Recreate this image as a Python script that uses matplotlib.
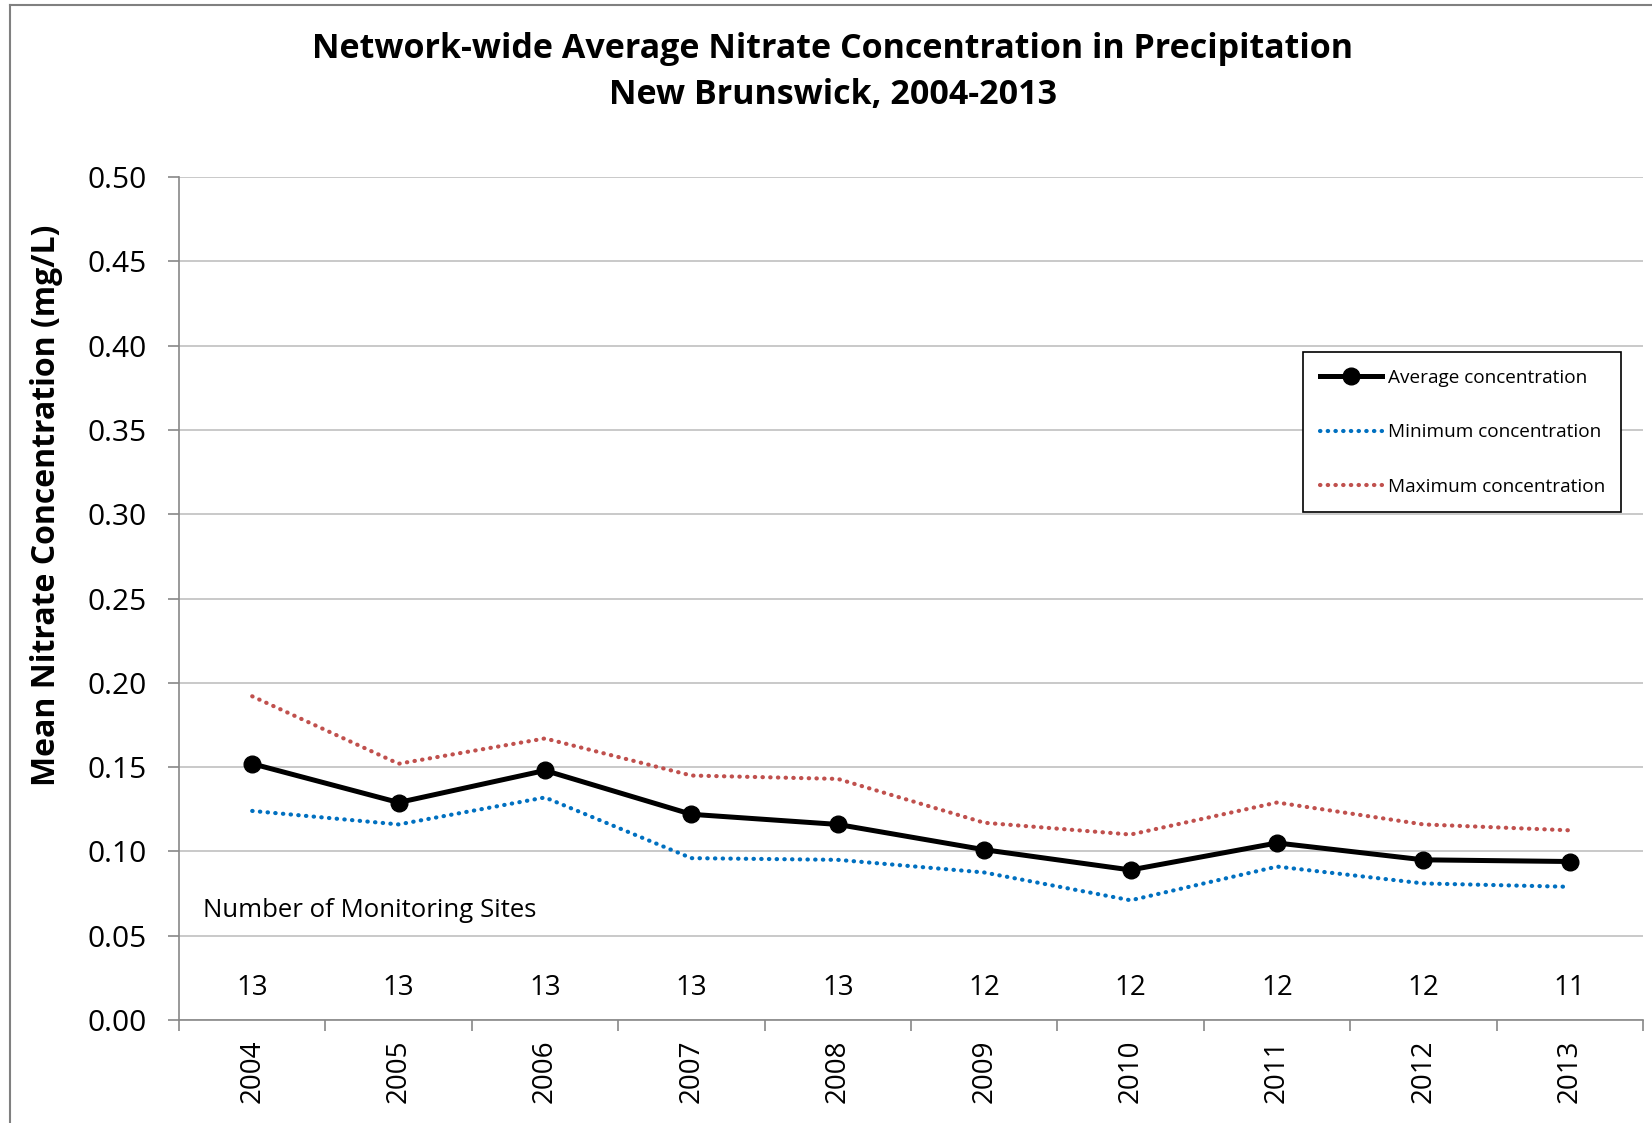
import matplotlib
matplotlib.use("Agg")
import matplotlib.pyplot as plt
from matplotlib.lines import Line2D

years = ["2004", "2005", "2006", "2007", "2008", "2009", "2010", "2011", "2012", "2013"]
avg_conc = [0.152, 0.129, 0.148, 0.122, 0.116, 0.101, 0.089, 0.105, 0.095, 0.094]
min_conc = [0.124, 0.116, 0.132, 0.096, 0.095, 0.0875, 0.071, 0.091, 0.081, 0.079]
max_conc = [0.192, 0.152, 0.167, 0.145, 0.143, 0.117, 0.110, 0.129, 0.116, 0.1125]
sites = [13, 13, 13, 13, 13, 12, 12, 12, 12, 11]
yticks = [0.00, 0.05, 0.10, 0.15, 0.20, 0.25, 0.30, 0.35, 0.40, 0.45, 0.50]

FONT = "Open Sans"
plt.rcParams["font.family"] = [FONT, "DejaVu Sans"]

W, H = 1652, 1123
fig = plt.figure(figsize=(W / 100, H / 100), dpi=100)
ax = fig.add_axes([179 / W, 1 - 1020 / H, (1643 - 179) / W, (1020 - 177) / H])

x = list(range(len(years)))
dot = (0, (0.1, 1.75))
ax.plot(x, min_conc, color="#0070C0", lw=3.0, linestyle=dot, dash_capstyle="round",
        label="Minimum concentration", zorder=3)
ax.plot(x, max_conc, color="#C0504D", lw=3.0, linestyle=dot, dash_capstyle="round",
        label="Maximum concentration", zorder=3)
ax.plot(x, avg_conc, color="black", lw=3.6, marker="o", markersize=12,
        label="Average concentration", zorder=4)

ax.set_xlim(-0.5, len(years) - 0.5)
ax.set_ylim(0, 0.5)
ax.set_yticks(yticks)
ax.set_yticklabels([f"{v:.2f}" for v in yticks], fontsize=21.5)
ax.set_xticks(x)
ax.set_xticklabels(years, rotation=90, fontsize=20)
ax.set_xticks([i - 0.5 for i in range(len(years) + 1)], minor=True)
ax.tick_params(axis="x", which="major", length=0, pad=14)
ax.tick_params(axis="x", which="minor", length=8, width=1.2, color="#888888", direction="out")
ax.tick_params(axis="y", length=8, width=1.2, color="#888888", direction="out", pad=15)

ax.grid(axis="y", color="#c0c0c0", lw=1.2, zorder=0)
ax.set_axisbelow(True)
for s in ["top", "right"]:
    ax.spines[s].set_visible(False)
for s in ["left", "bottom"]:
    ax.spines[s].set_color("#888888")
    ax.spines[s].set_linewidth(1.2)

for xi, n in zip(x, sites):
    ax.text(xi, 0.0187, str(n), ha="center", va="center", fontsize=20)
ax.text(0.0165, 0.065, "Number of Monitoring Sites", transform=ax.get_yaxis_transform(),
        ha="left", va="center", fontsize=18.5)

fig.text(47 / W, 1 - 505 / H, "Mean Nitrate Concentration (mg/L)", rotation=90,
         ha="center", va="center", fontsize=23, fontweight="bold")

h, l = ax.get_legend_handles_labels()
order = [2, 0, 1]
leg = ax.legend([h[i] for i in order], [l[i] for i in order], loc="upper left",
                bbox_to_anchor=(0.768, 0.792), borderaxespad=0, fontsize=13.7, handlelength=3.3,
                labelspacing=1.93, borderpad=0.85, handletextpad=0.3, fancybox=False,
                framealpha=1, edgecolor="black")
leg.get_frame().set_linewidth(1.2)

fig.text(0.504, 1 - 72 / H, "Network-wide Average Nitrate Concentration in Precipitation\nNew Brunswick, 2004-2013",
         ha="center", va="center", fontsize=24.5, fontweight="bold", linespacing=1.45)

# outer chart border
fig.add_artist(Line2D([10 / W, 10 / W], [0, 1 - 5 / H], color="#808080", lw=1.5, transform=fig.transFigure))
fig.add_artist(Line2D([10 / W, 1], [1 - 5 / H, 1 - 5 / H], color="#808080", lw=1.5, transform=fig.transFigure))

fig.savefig("out.png", dpi=100)
